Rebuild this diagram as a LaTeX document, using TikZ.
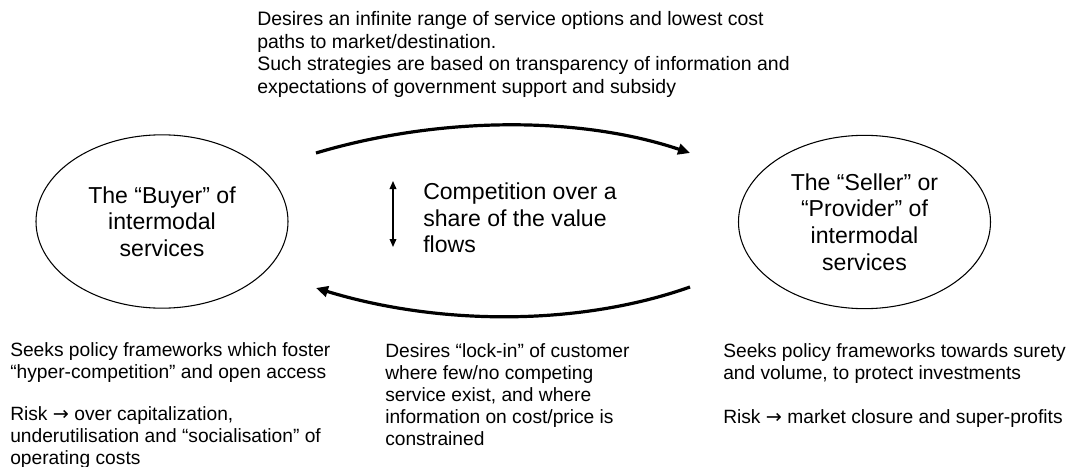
\documentclass[tikz,border=0pt]{standalone}
\usepackage{fontspec}
\setmainfont{Liberation Sans}
\newfontfamily\symfont{DejaVu Sans}
\newcommand{\riskarrow}{{\symfont →}}
\usetikzlibrary{arrows.meta,shapes.geometric}
\begin{document}
\begin{tikzpicture}[x=0.75pt,y=-0.75pt,
  small/.style={font=\fontsize{14.4}{16.6}\selectfont, align=left, inner sep=0pt, anchor=north west},
  topsmall/.style={small, font=\fontsize{14.6}{17.1}\selectfont},
  big/.style={font=\fontsize{17.3}{20}\selectfont, align=center, inner sep=0pt},
  party/.style={ellipse, draw, line width=0.8pt, minimum width=189pt, minimum height=130pt, big},
  flow/.style={line width=2.4pt, -{Triangle[length=9pt,width=8pt]}},
  dbl/.style={line width=1pt, {Triangle[length=6pt,width=5pt]}-{Triangle[length=6pt,width=5pt]}}]
\useasboundingbox (0,0) rectangle (1068,467);

\node[party] (buyer) at (162,221.5) {The “Buyer” of\\intermodal\\services};
\node[party] (seller) at (864.5,222) {The “Seller” or\\“Provider” of\\intermodal\\services};

\node[topsmall] (toptext) at (257,11) {Desires an infinite range of service options and lowest cost\\paths to market/destination.\\Such strategies are based on transparency of information and\\expectations of government support and subsidy};

\node[big, align=left, anchor=north west] (comp) at (423,182.5) {Competition over a\\share of the value\\flows};

\coordinate (dtop) at (393,181);
\coordinate (dbot) at (393,247);
\draw[dbl] (dtop) -- (dbot);

\coordinate (ts) at (316,153);
\coordinate (te) at (690,153);
\draw[flow] (ts) .. controls (440,116) and (580,116) .. (te);

\coordinate (bs) at (690,287);
\coordinate (be) at (316,288);
\draw[flow] (bs) .. controls (580,326) and (440,326) .. (be);

\node[small] (buyertext) at (10,342) {Seeks policy frameworks which foster\\“hyper-competition” and open access\\[15pt]Risk \riskarrow{} over capitalization,\\underutilisation and “socialisation” of\\operating costs};

\node[small] (locktext) at (385,343) {Desires “lock-in” of customer\\where few/no competing\\service exist, and where\\information on cost/price is\\constrained};

\node[small] (sellertext) at (723,343) {Seeks policy frameworks towards surety\\and volume, to protect investments\\[16.6pt]Risk \riskarrow{} market closure and super-profits};
\end{tikzpicture}
\end{document}
